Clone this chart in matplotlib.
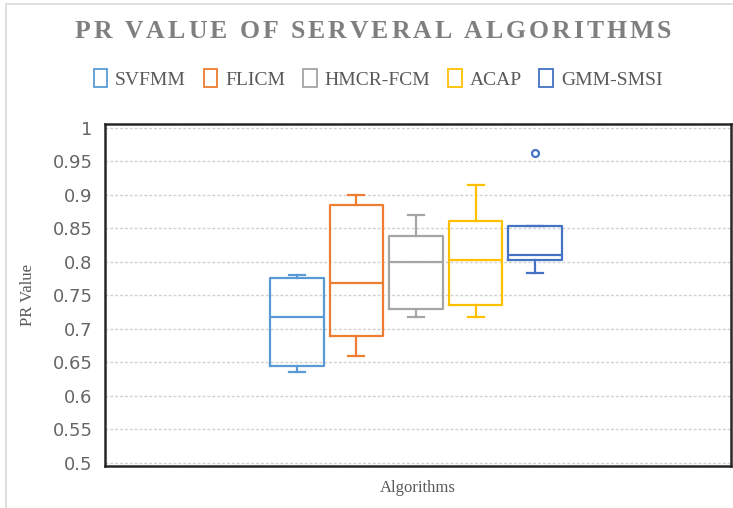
import matplotlib
matplotlib.use("Agg")
import matplotlib.pyplot as plt
from matplotlib.patches import Rectangle, Patch
from matplotlib.font_manager import FontProperties

# ---- data ----
algorithms = ["SVFMM", "FLICM", "HMCR-FCM", "ACAP", "GMM-SMSI"]
whisker_low = [0.635, 0.659, 0.718, 0.718, 0.783]
q1 = [0.645, 0.689, 0.730, 0.735, 0.803]
median = [0.718, 0.769, 0.800, 0.803, 0.810]
q3 = [0.776, 0.885, 0.839, 0.861, 0.853]
whisker_high = [0.780, 0.900, 0.870, 0.914, 0.853]
outliers = [[], [], [], [], [0.962]]
colors = ["#5B9BD5", "#ED7D31", "#A5A5A5", "#FFC000", "#4472C4"]
yticks = [0.5, 0.55, 0.6, 0.65, 0.7, 0.75, 0.8, 0.85, 0.9, 0.95, 1]
ytick_labels = ["0.5", "0.55", "0.6", "0.65", "0.7", "0.75", "0.8", "0.85", "0.9", "0.95", "1"]
title = "PR VALUE OF SERVERAL ALGORITHMS"

W, H = 733, 508
fig = plt.figure(figsize=(W / 100, H / 100), dpi=100)
fig.patch.set_facecolor("white")

# outer chart border
fig.patches.append(Rectangle((6 / W, -0.05), 1.1, 1 - 4 / H + 0.05, transform=fig.transFigure,
                             fill=False, edgecolor="#D9D9D9", linewidth=1.2))

ax = fig.add_axes([105 / W, (H - 466) / H, (731 - 105) / W, (466 - 124) / H])
ax.set_xlim(0, 1)
ax.set_ylim(0.4955, 1.0055)

n = len(algorithms)
spacing = 0.0952
center = 0.4968
positions = [center + (i - (n - 1) / 2) * spacing for i in range(n)]

for i in range(n):
    stats = [dict(med=median[i], q1=q1[i], q3=q3[i], whislo=whisker_low[i],
                  whishi=whisker_high[i], fliers=outliers[i], label=algorithms[i])]
    c = colors[i]
    ax.bxp(stats, positions=[positions[i]], widths=0.0858, capwidths=0.0256,
           showfliers=True, manage_ticks=False,
           boxprops=dict(color=c, linewidth=1.6),
           medianprops=dict(color=c, linewidth=1.6),
           whiskerprops=dict(color=c, linewidth=1.6),
           capprops=dict(color=c, linewidth=1.6),
           flierprops=dict(marker="o", markersize=5, markerfacecolor="white",
                           markeredgecolor=c, markeredgewidth=1.6))

ax.set_yticks(yticks)
ax.set_yticklabels(ytick_labels)
ax.set_xticks([])
ax.tick_params(axis="y", length=0, pad=9, labelsize=13, labelcolor="#666666")
for lab in ax.get_yticklabels():
    lab.set_fontfamily("DejaVu Sans")
ax.grid(axis="y", color="#D0D0D0", linestyle=(0, (2, 1.5)), linewidth=1)
ax.set_axisbelow(True)
for s in ax.spines.values():
    s.set_color("#262626")
    s.set_linewidth(1.8)

ax.set_ylabel("PR Value", fontfamily="Liberation Serif", fontsize=12, color="#595959", labelpad=12)
ax.set_xlabel("Algorithms", fontfamily="Liberation Serif", fontsize=12, color="#595959", labelpad=10)

# title with letter spacing (Excel style)
tprop = FontProperties(family="Liberation Serif", weight="bold", size=18.5)
renderer = fig.canvas.get_renderer()
def tw(s):
    w, _, _ = renderer.get_text_width_height_descent(s, tprop, ismath=False)
    return w
adv = [tw("X" + ch + "X") - tw("XX") for ch in title]
natural = sum(adv)
x_start, x_end = 75, 671
gap = (x_end - x_start - natural) / (len(title) - 1)
x = x_start
for ch, a in zip(title, adv):
    if ch != " ":
        fig.text(x / W, 1 - 31 / H, ch, ha="left", va="center", fontproperties=tprop, color="#7F7F7F")
    x += a + gap

handles = [Patch(facecolor="white", edgecolor=c, linewidth=1.3, label=a) for a, c in zip(algorithms, colors)]
leg = fig.legend(handles=handles, loc="center", bbox_to_anchor=(378 / W, 1 - 79 / H), ncol=5,
                 frameon=False, prop=dict(family="Liberation Serif", size=14),
                 handlelength=0.7, handleheight=1.0, handletextpad=0.4, columnspacing=0.92)
for t in leg.get_texts():
    t.set_color("#595959")

fig.savefig("out.png", dpi=100)
